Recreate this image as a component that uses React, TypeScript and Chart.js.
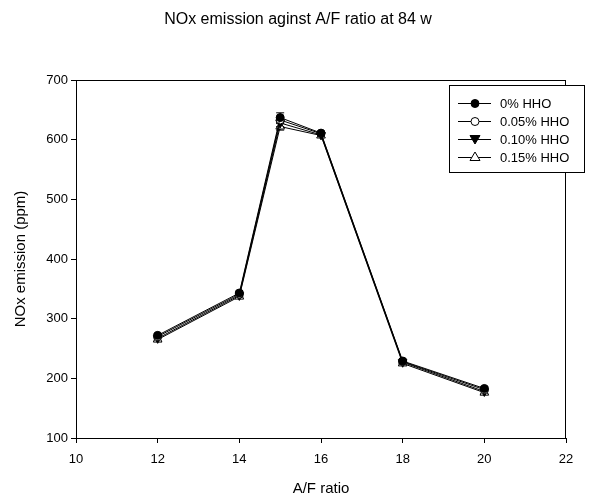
import React, { useEffect, useRef } from "react";
import { Chart, registerables } from "chart.js";

Chart.register(...registerables);

const afRatio = [12, 14, 15, 16, 18, 20];
const hho0 = [272, 343, 637, 611, 229, 183];
const hho005 = [270, 341, 633, 610, 228, 181];
const hho010 = [267, 339, 628, 608, 227, 178];
const hho015 = [265, 337, 622, 607, 225, 176];
const err0 = [3, 3, 8, 3, 3, 3];
const err005 = [3, 3, 6, 3, 3, 3];
const err010 = [3, 3, 6, 3, 3, 3];
const err015 = [3, 3, 6, 3, 3, 3];
const seriesLabels = ["0% HHO", "0.05% HHO", "0.10% HHO", "0.15% HHO"];
const xTicks = [10, 12, 14, 16, 18, 20, 22];
const yTicks = [100, 200, 300, 400, 500, 600, 700];
const titleText = "NOx emission aginst A/F ratio at 84 w";
const xTitle = "A/F ratio";
const yTitle = "NOx emission (ppm)";

const FONT = "Arial, 'Liberation Sans', sans-serif";

const styles = [
  { pointStyle: "circle", bg: "#000", rot: 0, r: 4 },
  { pointStyle: "circle", bg: "#fff", rot: 0, r: 4 },
  { pointStyle: "triangle", bg: "#000", rot: 180, r: 5 },
  { pointStyle: "triangle", bg: "#fff", rot: 0, r: 5 },
];

const allErrors = [err0, err005, err010, err015];

const decorPlugin = {
  id: "decor",
  beforeDatasetsDraw(chart: any) {
    const ctx = chart.ctx;
    const ys = chart.scales.y;
    ctx.save();
    ctx.strokeStyle = "#000";
    ctx.lineWidth = 1;
    chart.data.datasets.forEach((ds: any, i: number) => {
      const meta = chart.getDatasetMeta(i);
      meta.data.forEach((pt: any, j: number) => {
        const v = ds.data[j].y;
        const e = allErrors[i][j];
        const y1 = ys.getPixelForValue(v + e);
        const y2 = ys.getPixelForValue(v - e);
        ctx.beginPath();
        ctx.moveTo(pt.x, y1);
        ctx.lineTo(pt.x, y2);
        ctx.moveTo(pt.x - 4, y1);
        ctx.lineTo(pt.x + 4, y1);
        ctx.moveTo(pt.x - 4, y2);
        ctx.lineTo(pt.x + 4, y2);
        ctx.stroke();
      });
    });
    ctx.restore();
  },
  afterDraw(chart: any) {
    const ctx = chart.ctx;
    const ca = chart.chartArea;
    ctx.save();
    ctx.fillStyle = "#000";
    ctx.textAlign = "center";
    ctx.textBaseline = "middle";
    ctx.font = `16px ${FONT}`;
    ctx.fillText(titleText, 298, 20);
    ctx.font = `15px ${FONT}`;
    ctx.fillText(xTitle, (ca.left + ca.right) / 2, 489);
    ctx.save();
    ctx.translate(21, (ca.top + ca.bottom) / 2);
    ctx.rotate(-Math.PI / 2);
    ctx.fillText(yTitle, 0, 0);
    ctx.restore();

    // frame
    ctx.strokeStyle = "#000";
    ctx.lineWidth = 1;
    ctx.strokeRect(ca.left + 0.5, ca.top + 0.5, ca.right - ca.left - 1, ca.bottom - ca.top);

    // legend
    const lx = 449, ly = 85, lw = 135, lh = 87;
    ctx.fillStyle = "#fff";
    ctx.fillRect(lx, ly, lw, lh);
    ctx.strokeStyle = "#000";
    ctx.strokeRect(lx + 0.5, ly + 0.5, lw, lh);
    ctx.font = `13px ${FONT}`;
    ctx.textAlign = "left";
    const rows = [103, 121, 139, 157];
    seriesLabels.forEach((lab, i) => {
      const y = rows[i];
      ctx.strokeStyle = "#000";
      ctx.lineWidth = 1;
      ctx.beginPath();
      ctx.moveTo(458, y + 0.5);
      ctx.lineTo(491, y + 0.5);
      ctx.stroke();
      const s = styles[i];
      ctx.fillStyle = s.bg;
      ctx.beginPath();
      const cx = 475;
      if (s.pointStyle === "circle") {
        ctx.arc(cx, y + 0.5, s.r, 0, Math.PI * 2);
      } else {
        const r = s.r;
        const dir = s.rot === 180 ? -1 : 1;
        ctx.moveTo(cx, y - dir * r);
        ctx.lineTo(cx - r, y + dir * r * 0.7);
        ctx.lineTo(cx + r, y + dir * r * 0.7);
        ctx.closePath();
      }
      ctx.fill();
      ctx.stroke();
      ctx.fillStyle = "#000";
      ctx.fillText(lab, 500, y + 1);
    });
    ctx.restore();
  },
};

export default function App() {
  const ref = useRef<HTMLCanvasElement | null>(null);
  useEffect(() => {
    if (!ref.current) return;
    const series = [hho0, hho005, hho010, hho015];
    const chart = new Chart(ref.current, {
      type: "line",
      data: {
        datasets: series.map((vals, i) => ({
          label: seriesLabels[i],
          data: afRatio.map((x, j) => ({ x, y: vals[j] })),
          borderColor: "#000",
          borderWidth: 1,
          backgroundColor: styles[i].bg,
          pointBackgroundColor: styles[i].bg,
          pointBorderColor: "#000",
          pointBorderWidth: 1,
          pointStyle: styles[i].pointStyle as any,
          pointRotation: styles[i].rot,
          pointRadius: styles[i].r,
          fill: false,
          tension: 0,
        })),
      },
      options: {
        responsive: false,
        animation: false,
        layout: { padding: { left: 0, right: 30, top: 80, bottom: 0 } },
        plugins: {
          legend: { display: false },
          title: { display: false },
          tooltip: { enabled: false },
        },
        scales: {
          x: {
            type: "linear",
            min: 10,
            max: 22,
            afterBuildTicks: (s: any) => {
              s.ticks = xTicks.map((v) => ({ value: v }));
            },
            afterFit: (s: any) => {
              s.height = 62;
            },
            grid: {
              display: true,
              drawOnChartArea: false,
              drawTicks: true,
              tickLength: 5,
              color: "#000",
            },
            border: { display: true, color: "#000" },
            ticks: {
              color: "#000",
              font: { family: FONT, size: 13 },
              padding: 9,
              maxRotation: 0,
            },
          },
          y: {
            type: "linear",
            min: 100,
            max: 700,
            afterBuildTicks: (s: any) => {
              s.ticks = yTicks.map((v) => ({ value: v }));
            },
            afterFit: (s: any) => {
              s.width = 76;
            },
            grid: {
              display: true,
              drawOnChartArea: false,
              drawTicks: true,
              tickLength: 5,
              color: "#000",
            },
            border: { display: true, color: "#000" },
            ticks: {
              color: "#000",
              font: { family: FONT, size: 13 },
              padding: 3,
            },
          },
        },
      },
      plugins: [decorPlugin],
    });
    return () => chart.destroy();
  }, []);
  return (
    <div style={{ position: "absolute", left: 0, top: 0, width: 596, height: 500, background: "#fff" }}>
      <canvas ref={ref} width={596} height={500} style={{ width: 596, height: 500 }} />
    </div>
  );
}
